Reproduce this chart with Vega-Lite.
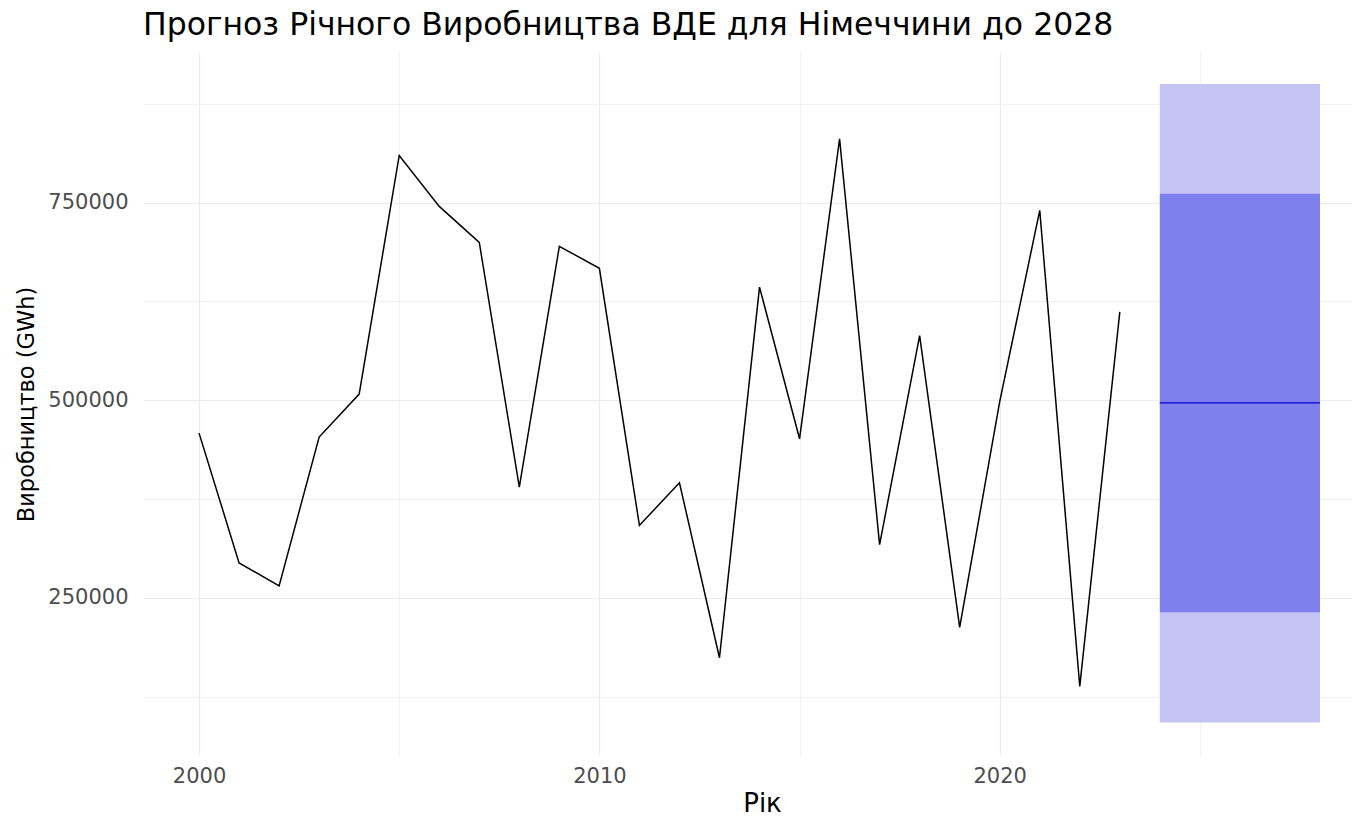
{
  "$schema": "https://vega.github.io/schema/vega-lite/v6.json",
  "width": 1209,
  "height": 703,
  "autosize": {"type": "none"},
  "padding": {"left": 143, "top": 52, "right": 8, "bottom": 61},
  "background": "white",
  "title": {
    "text": "Прогноз Річного Виробництва ВДЕ для Німеччини до 2028",
    "anchor": "start",
    "frame": "group",
    "font": "DejaVu Sans",
    "fontSize": 31.5,
    "fontWeight": "normal",
    "color": "#000000",
    "baseline": "alphabetic",
    "offset": -14
  },
  "config": {
    "view": {"stroke": null},
    "axis": {
      "domain": false,
      "ticks": false,
      "tickSize": 0,
      "gridColor": "#EBEBEB",
      "labelFont": "DejaVu Sans",
      "labelFontSize": 21,
      "labelColor": "#4D4D4D",
      "titleFont": "DejaVu Sans",
      "titleFontWeight": "normal",
      "titleColor": "#000000"
    }
  },
  "datasets": {
    "actual": [
      {"year": 2000, "value": 458300},
      {"year": 2001, "value": 294100},
      {"year": 2002, "value": 265000},
      {"year": 2003, "value": 453300},
      {"year": 2004, "value": 507600},
      {"year": 2005, "value": 809500},
      {"year": 2006, "value": 745100},
      {"year": 2007, "value": 699600},
      {"year": 2008, "value": 390100},
      {"year": 2009, "value": 694600},
      {"year": 2010, "value": 666800},
      {"year": 2011, "value": 341500},
      {"year": 2012, "value": 395500},
      {"year": 2013, "value": 174100},
      {"year": 2014, "value": 643000},
      {"year": 2015, "value": 451100},
      {"year": 2016, "value": 830600},
      {"year": 2017, "value": 317200},
      {"year": 2018, "value": 581600},
      {"year": 2019, "value": 212600},
      {"year": 2020, "value": 498100},
      {"year": 2021, "value": 740000},
      {"year": 2022, "value": 137800},
      {"year": 2023, "value": 611600}
    ],
    "forecast": [
      {"year": 2024, "mean": 496600, "lo80": 231800, "hi80": 761100, "lo95": 92300, "hi95": 900100},
      {"year": 2028, "mean": 496600, "lo80": 231800, "hi80": 761100, "lo95": 92300, "hi95": 900100}
    ]
  },
  "layer": [
    {
      "data": {"name": "forecast"},
      "mark": {"type": "area", "color": "#C4C4F4", "opacity": 1},
      "encoding": {
        "x": {
          "field": "year",
          "type": "quantitative",
          "scale": {"domain": [1998.6, 2028.8], "nice": false, "zero": false},
          "title": "Рік",
          "axis": {
            "values": [2000, 2005, 2010, 2015, 2020, 2025],
            "labelExpr": "datum.value % 10 === 0 ? datum.value : ''",
            "labelPadding": 10,
            "labelFlush": false,
            "labelOverlap": false,
            "gridWidth": {"condition": {"test": "datum.value % 10 === 0", "value": 1.2}, "value": 0.7},
            "titleFontSize": 26,
            "titleX": 619,
            "titleY": 56,
            "titleAnchor": null,
            "titleAlign": "center",
            "titleBaseline": "alphabetic"
          }
        },
        "y": {
          "field": "lo95",
          "type": "quantitative",
          "scale": {"domain": [51075, 940425], "nice": false, "zero": false},
          "title": "Виробництво (GWh)",
          "axis": {
            "values": [125000, 250000, 375000, 500000, 625000, 750000, 875000],
            "labelExpr": "datum.value % 250000 === 0 ? datum.value : ''",
            "labelPadding": 15,
            "labelOverlap": false,
            "gridWidth": {"condition": {"test": "datum.value % 250000 === 0", "value": 1.2}, "value": 0.7},
            "titleFontSize": 22.5,
            "titleX": -117,
            "titleY": 352,
            "titleAngle": -90,
            "titleAlign": "center",
            "titleBaseline": "middle"
          }
        },
        "y2": {"field": "hi95"}
      }
    },
    {
      "data": {"name": "forecast"},
      "mark": {"type": "area", "color": "#7F7FEE", "opacity": 1},
      "encoding": {
        "x": {"field": "year", "type": "quantitative", "title": "Рік"},
        "y": {"field": "lo80", "type": "quantitative", "title": "Виробництво (GWh)"},
        "y2": {"field": "hi80"}
      }
    },
    {
      "data": {"name": "forecast"},
      "mark": {"type": "line", "color": "#0000CC", "strokeWidth": 1.2},
      "encoding": {
        "x": {"field": "year", "type": "quantitative", "title": "Рік"},
        "y": {"field": "mean", "type": "quantitative", "title": "Виробництво (GWh)"}
      }
    },
    {
      "data": {"name": "actual"},
      "mark": {"type": "line", "color": "#000000", "strokeWidth": 1.5},
      "encoding": {
        "x": {"field": "year", "type": "quantitative", "title": "Рік"},
        "y": {"field": "value", "type": "quantitative", "title": "Виробництво (GWh)"}
      }
    }
  ]
}
